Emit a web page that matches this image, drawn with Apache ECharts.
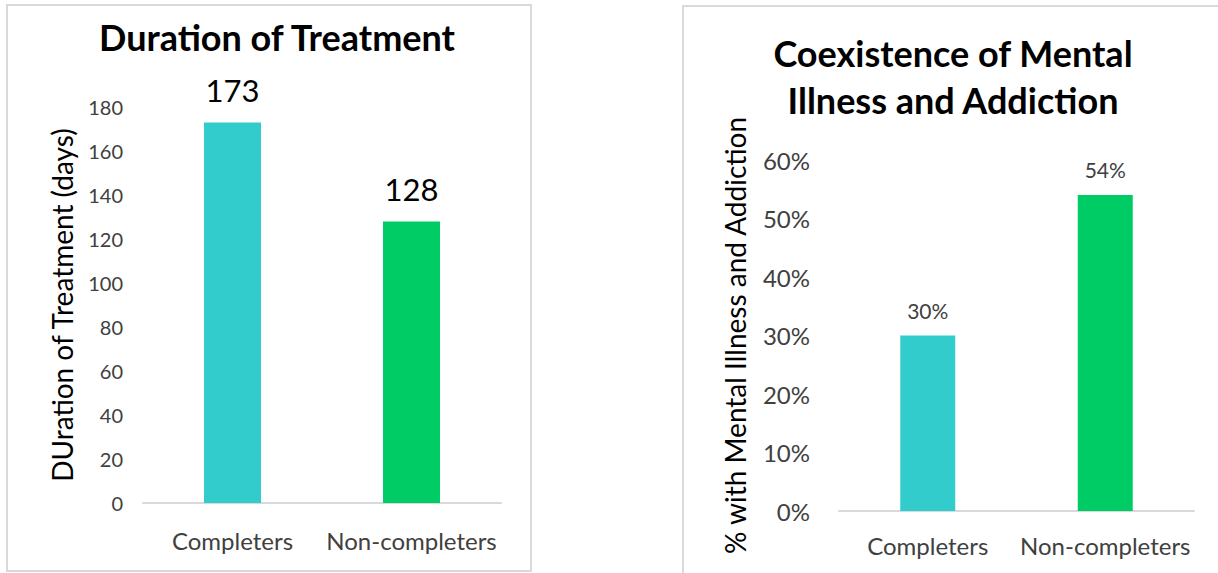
<!DOCTYPE html>
<html>
<head>
<meta charset="utf-8">
<script src="https://cdn.jsdelivr.net/npm/echarts@6/dist/echarts.min.js"></script>
<style>
  html, body { margin: 0; padding: 0; background: #ffffff; }
  #chart { width: 1218px; height: 573px; }
</style>
</head>
<body>
<div id="chart"></div>
<script>
// Categories shared by both panels
const categories = ['Completers', 'Non-completers'];

// Left panel: average treatment duration in days
const durationDays = [173, 128];
const durationTicks = { min: 0, max: 180, interval: 20 };

// Right panel: share with co-occurring mental illness and addiction (%)
const coexistencePct = [30, 54];
const coexistenceTicks = { min: 0, max: 60, interval: 10 };

const barColors = ['#33CCCC', '#00CC66'];

const FONT = 'Lato';
const TEXT = '#404040';
const AXIS_LINE = '#d9d9d9';

const chart = echarts.init(document.getElementById('chart'), null, { renderer: 'svg' });

function coloredData(values) {
  return values.map((v, i) => ({ value: v, itemStyle: { color: barColors[i] } }));
}

const option = {
  backgroundColor: '#ffffff',
  animation: false,
  graphic: [
    // panel frames
    { type: 'rect', shape: { x: 7, y: 5, width: 524, height: 566 },
      style: { fill: 'none', stroke: '#d9d9d9', lineWidth: 2 } },
    { type: 'rect', shape: { x: 683, y: 6, width: 600, height: 600 },
      style: { fill: 'none', stroke: '#d9d9d9', lineWidth: 2 } },
    // panel titles
    { type: 'text', x: 277, y: 37,
      style: { text: 'Duration of Treatment', font: 'bold 36px ' + FONT,
               fill: '#000000', align: 'center', verticalAlign: 'middle' } },
    { type: 'text', x: 953, y: 53,
      style: { text: 'Coexistence of Mental', font: 'bold 36px ' + FONT,
               fill: '#000000', align: 'center', verticalAlign: 'middle' } },
    { type: 'text', x: 953, y: 100,
      style: { text: 'Illness and Addiction', font: 'bold 36px ' + FONT,
               fill: '#000000', align: 'center', verticalAlign: 'middle' } }
  ],
  grid: [
    { left: 143, top: 107, width: 358, height: 396 },
    { left: 839, top: 160, width: 355, height: 351 }
  ],
  xAxis: [
    { type: 'category', gridIndex: 0, data: categories,
      axisLine: { lineStyle: { color: AXIS_LINE, width: 2 } },
      axisTick: { show: false },
      axisLabel: { interval: 0, color: TEXT, fontFamily: FONT, fontSize: 24, margin: 25 } },
    { type: 'category', gridIndex: 1, data: categories,
      axisLine: { lineStyle: { color: AXIS_LINE, width: 2 } },
      axisTick: { show: false },
      axisLabel: { interval: 0, color: TEXT, fontFamily: FONT, fontSize: 24, margin: 22 } }
  ],
  yAxis: [
    { type: 'value', gridIndex: 0,
      min: durationTicks.min, max: durationTicks.max, interval: durationTicks.interval,
      axisLine: { show: false }, axisTick: { show: false }, splitLine: { show: false },
      axisLabel: { color: TEXT, fontFamily: FONT, fontSize: 20, margin: 20 },
      name: 'DUration of Treatment (days)', nameLocation: 'middle', nameRotate: 90, nameGap: 67,
      nameTextStyle: { color: '#000000', fontFamily: FONT, fontSize: 28 } },
    { type: 'value', gridIndex: 1,
      min: coexistenceTicks.min, max: coexistenceTicks.max, interval: coexistenceTicks.interval,
      axisLine: { show: false }, axisTick: { show: false }, splitLine: { show: false },
      axisLabel: { color: TEXT, fontFamily: FONT, fontSize: 24, margin: 29, formatter: '{value}%' },
      name: '% with Mental Illness and Addiction', nameLocation: 'middle', nameRotate: 90, nameGap: 90,
      nameTextStyle: { color: '#000000', fontFamily: FONT, fontSize: 28 } }
  ],
  series: [
    { type: 'bar', xAxisIndex: 0, yAxisIndex: 0, barWidth: 57,
      data: coloredData(durationDays),
      label: { show: true, position: 'top', distance: 17, color: '#000000',
               fontFamily: FONT, fontSize: 31 } },
    { type: 'bar', xAxisIndex: 1, yAxisIndex: 1, barWidth: 55,
      data: coloredData(coexistencePct),
      label: { show: true, position: 'top', distance: 15, color: TEXT,
               fontFamily: FONT, fontSize: 21, formatter: '{c}%' } }
  ]
};

chart.setOption(option);
</script>
</body>
</html>
